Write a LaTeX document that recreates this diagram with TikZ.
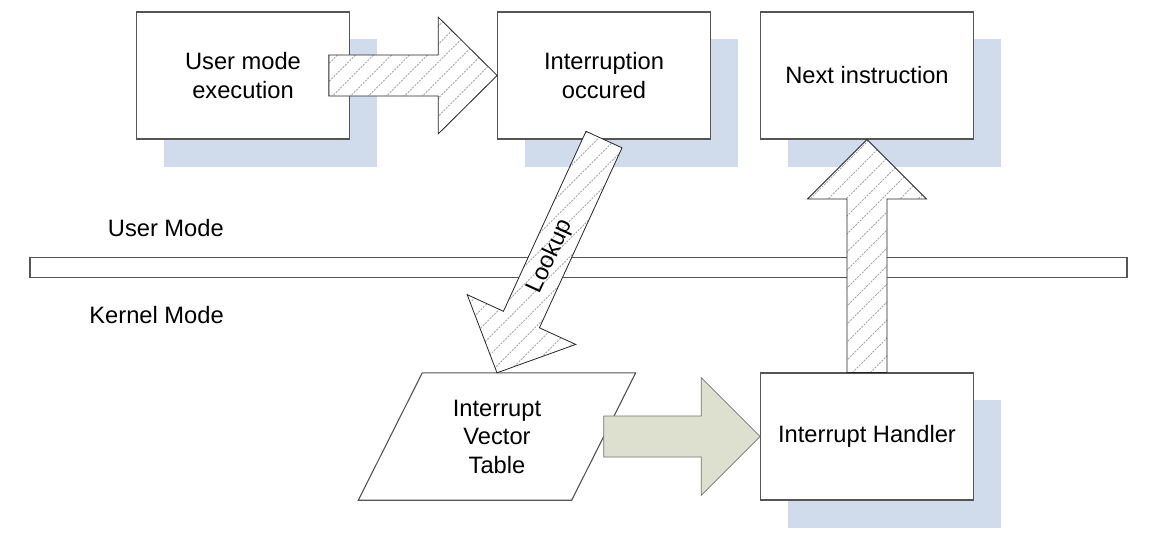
\documentclass[tikz,border=0pt]{standalone}
\usepackage{fontspec}
\setmainfont{Liberation Sans}
\usetikzlibrary{calc,backgrounds}
\definecolor{shadowblue}{RGB}{208,220,236}
\definecolor{solidfill}{RGB}{221,224,207}
\definecolor{boxline}{RGB}{85,85,85}
\newcommand\blockarr[6]{%
  \coordinate (hb) at ($(#2)!#5!(#1)$);
  \path[#6] ($(#1)!#3!90:(#2)$) -- ($(hb)!#3!-90:(#1)$) -- ($(hb)!#4!-90:(#1)$)
    -- (#2) -- ($(hb)!#4!90:(#1)$) -- ($(hb)!#3!90:(#1)$) -- ($(#1)!#3!-90:(#2)$) -- cycle;}
\tikzset{
  txt/.style={font=\fontsize{23.7pt}{28.5pt}\selectfont},
  box/.style={draw=boxline, line width=1.1pt, fill=white, minimum width=212.6pt,
    minimum height=127pt, inner sep=0pt, align=center, txt},
  shadowfill/.style={fill=shadowblue},
  hatchline/.style={draw=black!35, line width=0.9pt, dash pattern=on 2pt off 1.2pt},
  hatched/.style={fill=white, draw=black!85, line width=0.8pt,
    path picture={\foreach \k in {-420,-402,...,420}{
      \draw[hatchline] ($(path picture bounding box.center)+(\k pt-300pt,-300pt)$) -- ++(600pt,600pt);}}},
  solidarrow/.style={fill=solidfill, draw=black!55, line width=0.8pt},
}
\begin{document}
\begin{tikzpicture}[x=1pt,y=1pt]
\useasboundingbox (0,0) rectangle (1152,-541);
% boxes
\node[box] (b1) at (243,-75.5) {User mode\\execution};
\node[box] (b2) at (604,-75.5) {Interruption\\occured};
\node[box] (b3) at (867,-75.5) {Next instruction};
\node[box] (ih) at (867,-436.5) {Interrupt Handler};
\node[txt, minimum width=213pt, minimum height=127pt, inner sep=0pt, align=center] (ivt) at (497,-436.5) {Interrupt\\Vector\\Table};
% shadows and parallelogram
\begin{scope}[on background layer]
  \foreach \n in {b1,b2,b3,ih}{
    \fill[shadowfill] ([shift={(27.5pt,-27.5pt)}]\n.south west) rectangle ([shift={(27.5pt,-27.5pt)}]\n.north east);}
  \fill[shadowfill,shift={(27.5pt,-27.5pt)}] ([xshift=32pt]ivt.north west) -- ([xshift=32pt]ivt.north east)
    -- ([xshift=-32pt]ivt.south east) -- ([xshift=-32pt]ivt.south west) -- cycle;
  \filldraw[fill=white, draw=boxline, line width=1.1pt] ([xshift=32pt]ivt.north west) -- ([xshift=32pt]ivt.north east)
    -- ([xshift=-32pt]ivt.south east) -- ([xshift=-32pt]ivt.south west) -- cycle;
\end{scope}
% mode band and labels
\node[draw=boxline, line width=1.1pt, fill=white, minimum width=1097pt, minimum height=20.3pt, inner sep=0pt] (band) at (578.5,-267.2) {};
\node[txt, anchor=base east, inner sep=0pt] (um) at (224,-236.7) {User Mode};
\node[txt, anchor=base east, inner sep=0pt] (km) at (224,-323.3) {Kernel Mode};
% block arrows
\coordinate (a1tail) at ([xshift=-21pt]b1.east);
\blockarr{a1tail}{b2.west}{20.5pt}{58.5pt}{59pt}{hatched}
\coordinate (lktip) at (ivt.center |- ivt.north);
\blockarr{b2.south}{lktip}{19.8pt}{59.7pt}{58.6pt}{hatched}
\path (lktip) -- node[txt, sloped, inner sep=0pt] (lk) {Lookup} (b2.south);
\blockarr{ih.north}{b3.south}{20pt}{59.5pt}{59.5pt}{hatched}
\blockarr{ivt.east}{ih.west}{20.5pt}{59pt}{59pt}{solidarrow}
\end{tikzpicture}
\end{document}
